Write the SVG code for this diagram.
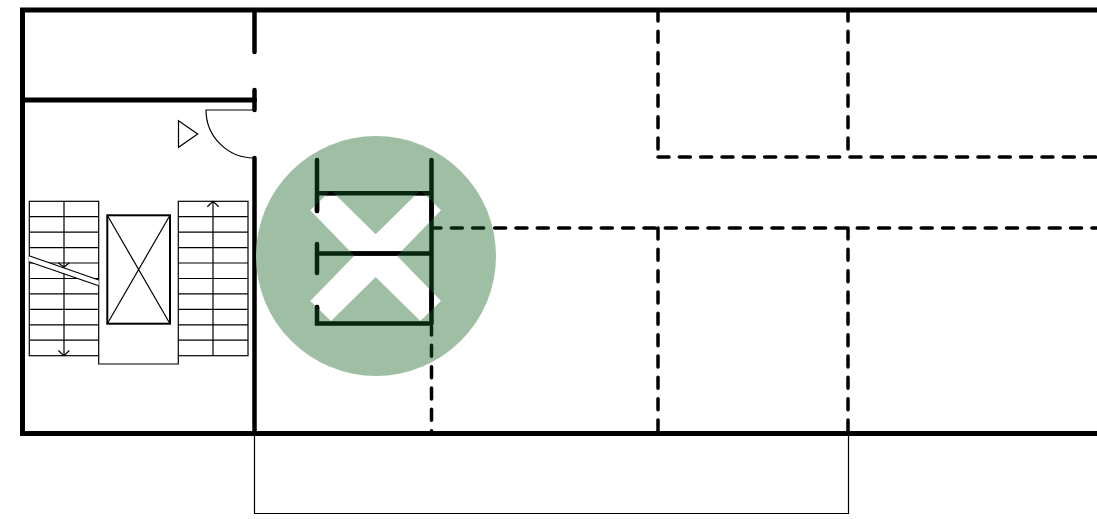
<svg xmlns="http://www.w3.org/2000/svg" width="1097" height="519" viewBox="0 0 1097 519">
<style>
.wall{fill:none;stroke:#000;stroke-width:5;stroke-linecap:round}
.wallv{fill:none;stroke:#000;stroke-width:4.500;stroke-linecap:round}
.thin{fill:none;stroke:#000;stroke-width:1.200}
.stair{fill:#fff;stroke:#000;stroke-width:1.200}
.dash{fill:none;stroke:#000;stroke-width:3.500;stroke-linecap:round;stroke-dasharray:11 10.330}
.dashg{fill:none;stroke:#07260f;stroke-width:3.500;stroke-linecap:round;stroke-dasharray:11 10.330}
.mark{fill:none;stroke:#07260f;stroke-width:4.500;stroke-linecap:round}
.markb{fill:none;stroke:#000;stroke-width:4.500;stroke-linecap:round;clip-path:url(#x-shape)}
</style>
<defs>
<clipPath id="x-shape"><path d="M331 190.300L375.700 234.300L420.300 190.300L441 210.300L397 255.700L441 301L420.300 321L375.700 277L331 321L310.300 301L354.300 255.700L310.300 210.300Z"/></clipPath>
</defs>
<rect width="1097" height="519" fill="#fff"/>
<g id="walls">
<path class="wall" d="M1097 10H22.500V433.500H1097M24 100H254.500"/>
<path class="wallv" d="M254.500 10V52M254.500 90V110M254.500 158V433.500"/>
<path class="thin" d="M254.500 433V513.500H848.500V433"/>
</g>
<g id="door">
<path class="thin" d="M254 110H206A48 48 0 0 0 254 158"/>
<path class="thin" d="M178.500 120.700L197.700 134L178.500 147.300Z"/>
</g>
<g id="stairs">
<path class="stair" d="M98.700 355.700V364H178.300V355.700"/>
<rect class="stair" x="29.300" y="201.300" width="69.400" height="154.400"/>
<rect class="stair" x="178.300" y="201.300" width="69.700" height="154.400"/>
<path class="thin" d="M29.300 216.700H98.700M29.300 232.200H98.700M29.300 247.600H98.700M29.300 263H98.700M29.300 278.500H98.700M29.300 293.900H98.700M29.300 309.300H98.700M29.300 324.800H98.700M29.300 340.200H98.700"/>
<path class="thin" d="M178.300 216.700H248M178.300 232.200H248M178.300 247.600H248M178.300 263H248M178.300 278.500H248M178.300 293.900H248M178.300 309.300H248M178.300 324.800H248M178.300 340.200H248"/>
<path class="thin" d="M64 201.300V355.700M58.300 350.500L64 355.700L69.300 350.500M58.300 262.700L64 267.300L69.300 262.700"/>
<path class="thin" d="M213 355.700V201.700M207.300 206.700L213 201.300L218.700 206.700"/>
<path d="M29 255.700L98.700 280V285.700L29 261.700Z" fill="#fff" stroke="none"/>
<path class="thin" d="M29 255.700L98.700 280M29 261.700L98.700 285.700"/>
</g>
<g id="lift">
<rect x="107.300" y="215.300" width="62.700" height="108.400" fill="#fff" stroke="#000" stroke-width="2"/>
<path class="thin" d="M107.300 215.300L170 323.700M170 215.300L107.300 323.700"/>
</g>
<g id="cross-mark">
<circle cx="376" cy="256" r="120" fill="#9fbfa5"/>
<path d="M331 190.300L375.700 234.300L420.300 190.300L441 210.300L397 255.700L441 301L420.300 321L375.700 277L331 321L310.300 301L354.300 255.700L310.300 210.300Z" fill="#fff"/>
<path class="mark" d="M317 160V211M317 244V273M317 307V323.500H431.500M317 193.300H431.500M317 253.500H431.500M431.500 160V323.500"/>
<path class="markb" d="M317 160V211M317 244V273M317 307V323.500H431.500M317 193.300H431.500M317 253.500H431.500M431.500 160V323.500"/>
</g>
<g id="connectors">
<path class="dash" d="M658 10V157M848 10V157M658 157H1097M494.640 228H1097M658 228V433M848 228V433M431.500 366.660V433"/>
<path class="dashg" stroke-dashoffset="2.500" d="M432.500 228H484M431.500 326.500V357"/>
</g>
</svg>
